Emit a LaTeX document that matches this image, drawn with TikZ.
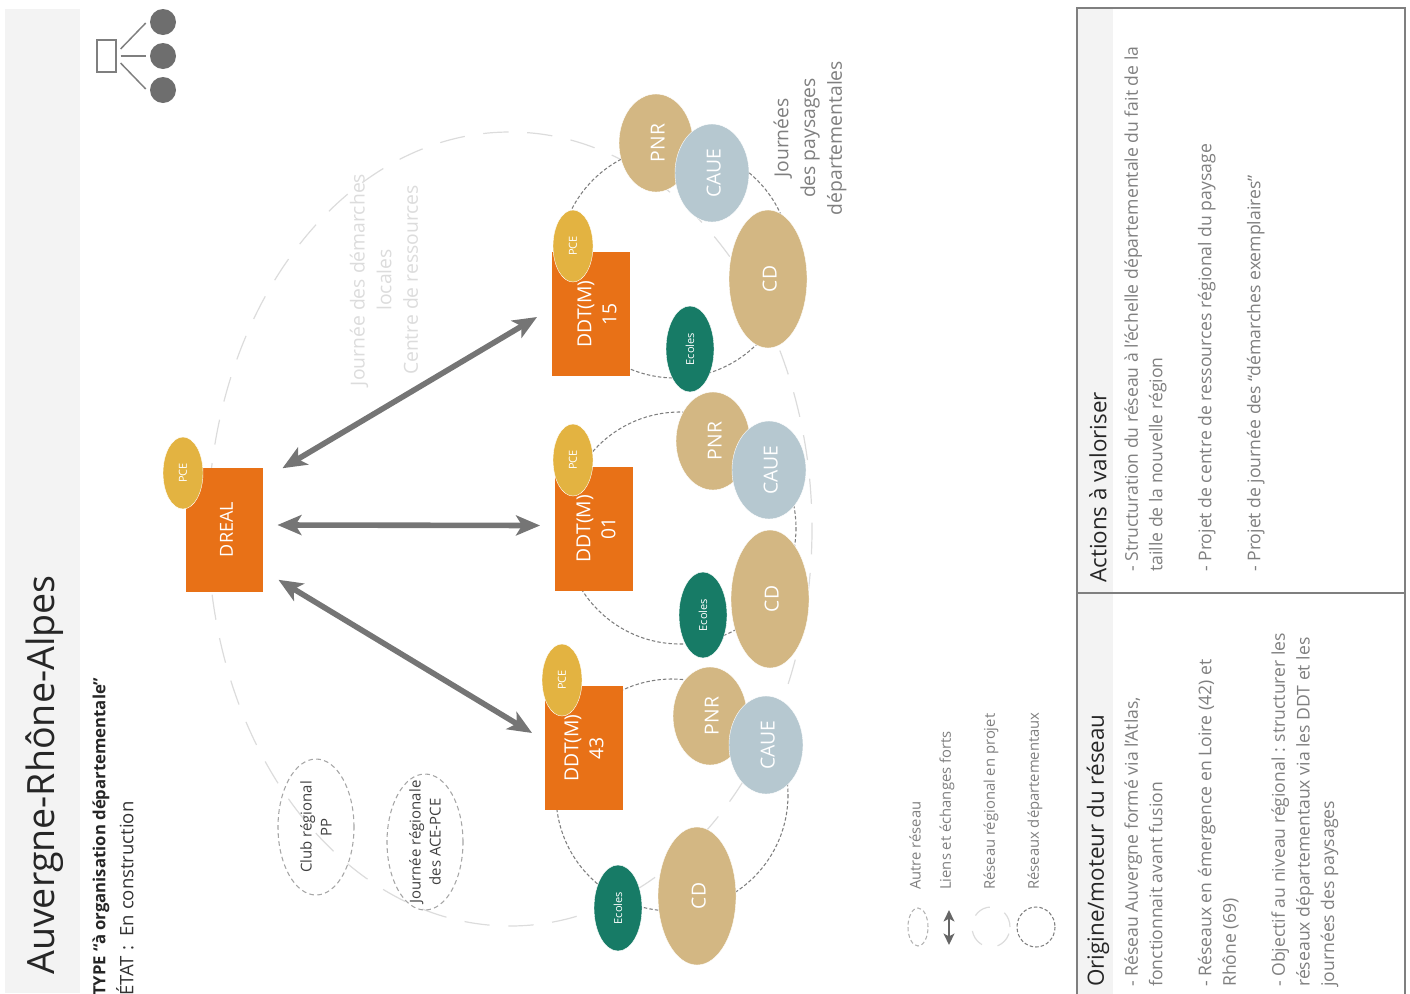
\documentclass[tikz,border=0pt]{standalone}
\usepackage{fontspec}
\setmainfont{Open Sans}
\usetikzlibrary{shapes.geometric,arrows.meta}
\definecolor{band}{HTML}{F3F3F3}
\definecolor{orangebox}{HTML}{E87117}
\definecolor{pcey}{HTML}{E3B341}
\definecolor{tan}{HTML}{D3B783}
\definecolor{caueb}{HTML}{B6C8D0}
\definecolor{greene}{HTML}{177B66}
\definecolor{arrowg}{HTML}{757575}
\definecolor{faint}{HTML}{DCDCDC}
\definecolor{textg}{HTML}{7F7F7F}
\newcommand{\capslbl}[1]{\smash{\raisebox{-6.4pt}{#1}}}
\tikzset{
  x=0.75pt,y=-0.75pt,
  tag/.style={ellipse,rotate=90,inner sep=0pt,text=white,align=center,draw=white,line width=.3pt},
  pnrtag/.style={tag,fill=tan,minimum width=73.5pt,minimum height=55.5pt,font=\fontsize{14.5}{15}\selectfont},
  cauetag/.style={tag,fill=caueb,minimum width=73.5pt,minimum height=55.5pt,font=\fontsize{14.5}{15}\selectfont},
  cdtag/.style={tag,fill=tan,minimum width=103.5pt,minimum height=58.5pt,font=\fontsize{14.5}{15}\selectfont},
  ecoletag/.style={tag,fill=greene,minimum width=64.5pt,minimum height=36pt,font=\fontsize{8.3}{10}\selectfont},
  pcetag/.style={tag,fill=pcey,minimum width=54pt,minimum height=30pt,font=\fontsize{8.3}{10}\selectfont},
  orgbox/.style={rectangle,inner sep=0pt,fill=orangebox,minimum width=58pt,minimum height=93pt},
  orgtext/.style={rotate=90,inner sep=0pt,text=white,align=center,font=\fontsize{14.5}{18.8}\selectfont},
  bigring/.style={draw=faint,line width=.9pt,dash pattern=on 19pt off 14pt},
  smallring/.style={draw=textg,line width=.8pt,dash pattern=on 2.6pt off 1.6pt},
  otherring/.style={ellipse,draw=black!35,line width=.8pt,dash pattern=on 3.5pt off 2.5pt,inner sep=0pt,minimum width=57pt,minimum height=102pt},
  othertext/.style={rotate=90,inner sep=0pt,align=center,text=black!75,font=\fontsize{11.2}{15}\selectfont},
  link/.style={draw=arrowg,line width=4.2pt,{Stealth[length=18pt,width=15pt,inset=4.5pt]}-{Stealth[length=18pt,width=15pt,inset=4.5pt]}},
  rottext/.style={rotate=90,inner sep=0pt,anchor=north west,align=left},
  legendtext/.style={rotate=90,inner sep=0pt,anchor=west,text=textg,font=\fontsize{11.1}{12}\selectfont},
  bodytext/.style={rottext,text=textg,font=\fontsize{13.2}{18.4}\selectfont},
  headtext/.style={rotate=90,inner sep=0pt,anchor=west,text=black!85,font=\fontsize{16.8}{20}\selectfont},
  notetext/.style={rotate=90,inner sep=0pt,align=center,font=\fontsize{14.5}{20}\selectfont},
}
\begin{document}
\begin{tikzpicture}
\useasboundingbox (0,0) rectangle (1410,993);
\clip (0,0) rectangle (1410,993);
% left band and title
\fill[band] (5,9) rectangle (80,993);
\node[headtext,font=\fontsize{28.2}{30}\selectfont,text=black!85] (title) at (45,975) {Auvergne-Rhône-Alpes};
\node[rotate=90,inner sep=0pt,anchor=west,font=\bfseries\fontsize{12.55}{14}\selectfont,text=black!85] (typeline) at (101,996) {TYPE “à organisation départementale”};
\node[rotate=90,inner sep=0pt,anchor=west,font=\fontsize{13.9}{14}\selectfont,text=black!80] (etat) at (125,996) {ÉTAT :\ \ En construction};
% icon
\node[draw=textg,line width=1.1pt,fill=white,minimum width=14pt,minimum height=24pt,inner sep=0pt] (icon) at (106.5,56) {};
\foreach \n/\y in {c1/22,c2/56,c3/90}
  \node[circle,fill=black!57,minimum size=19.5pt,inner sep=0pt] (\n) at (163,\y) {};
\draw[textg,line width=1.1pt] ([shift={(4,-7)}]icon.east) -- ([shift={(-4,1)}]c1.west);
\draw[textg,line width=1.1pt] ([shift={(4,0)}]icon.east) -- ([shift={(-4,0)}]c2.west);
\draw[textg,line width=1.1pt] ([shift={(4,7)}]icon.east) -- ([shift={(-4,-1)}]c3.west);
% regional ring
\draw[bigring] (510,529) ellipse [x radius=302,y radius=397];
% departmental rings
\draw[smallring] (675,262) circle [radius=116];
\draw[smallring] (680,528) circle [radius=116];
\draw[smallring] (672,795) circle [radius=116];
% faint text
\node[notetext,text=faint] (journeeslocales) at (384,280) {Journée des démarches\\locales\\Centre de ressources};
\node[notetext,text=textg] (journeesdep) at (810,138) {Journées\\des paysages\\départementales};
% other rings
\node[otherring] (club) at (316,827) {};
\node[othertext] at (club.center) {Club régional\\PP};
\node[otherring] (journreg) at (425,842) {};
\node[othertext] at (journreg.center) {Journée régionale\\des ACE-PCE};
% boxes
\node[orgbox] (dreal) at (224.5,529.5) {};
\node[orgtext,font=\fontsize{13.5}{16}\selectfont] at ([shift={(2,0)}]dreal.center) {DREAL};
\node[pcetag] (pce0) at (183,473) {PCE};
\node[orgbox] (ddt15) at (591,314) {};
\node[orgtext] at ([shift={(6,0)}]ddt15.center) {DDT(M)\\15};
\node[pcetag] (pce15) at (573,246) {PCE};
\node[orgbox] (ddt01) at (594,528.5) {};
\node[orgtext] at ([shift={(2,0)}]ddt01.center) {DDT(M)\\01};
\node[pcetag] (pce01) at (573,460) {PCE};
\node[orgbox] (ddt43) at (584,748) {};
\node[orgtext] at (ddt43.center) {DDT(M)\\43};
\node[pcetag] (pce43) at (562,680) {PCE};
% group 15
\node[pnrtag] (pnra) at (656,143) {\capslbl{PNR}};
\node[cauetag] (cauea) at (712,173) {\capslbl{CAUE}};
\node[cdtag] (cda) at (768,279) {\capslbl{CD}};
\node[ecoletag] (ecola) at (690,349) {Ecoles};
% group 01
\node[pnrtag] (pnrb) at (713,441) {\capslbl{PNR}};
\node[cauetag] (caueb) at (769,470) {\capslbl{CAUE}};
\node[cdtag] (cdb) at (770,599) {\capslbl{CD}};
\node[ecoletag] (ecolb) at (703,615) {Ecoles};
% group 43
\node[pnrtag] (pnrc) at (710,716) {\capslbl{PNR}};
\node[cauetag] (cauec) at (766,745) {\capslbl{CAUE}};
\node[cdtag] (cdc) at (697,896) {\capslbl{CD}};
\node[ecoletag] (ecolc) at (618,908) {Ecoles};
% strong links
\draw[link] ([shift={(19,1)}]dreal.north east) -- ([shift={(-15,3)}]ddt15.west);
\draw[link] ([shift={(14,-4.5)}]dreal.east) -- ([shift={(-15,-3)}]ddt01.west);
\draw[link] ([shift={(15,-12)}]dreal.south east) -- ([shift={(-13,-15)}]ddt43.west);
% legend
\node[ellipse,draw=black!30,line width=.8pt,dash pattern=on 3pt off 2pt,minimum width=15pt,minimum height=28.5pt,inner sep=0pt] (lega) at (918,927) {};
\coordinate (legbt) at (949,910);
\coordinate (legbb) at (949,945);
\draw[draw=black!60,line width=2.1pt,{Stealth[length=8.5pt,width=8pt,inset=2pt]}-{Stealth[length=8.5pt,width=8pt,inset=2pt]}] (legbt) -- (legbb);
\draw[draw=faint,line width=.9pt,dash pattern=on 13pt off 12pt,dash phase=20pt] (991,927) ellipse [x radius=19,y radius=20];
\draw[smallring] (1036,927) ellipse [x radius=19,y radius=20];
\node[legendtext] (la) at (915,890) {Autre réseau};
\node[legendtext] (lb) at (947,890) {Liens et échanges forts};
\node[legendtext] (lc) at (991,890) {Réseau régional en projet};
\node[legendtext] (ld) at (1035,890) {Réseaux départementaux};
% right panel
\fill[band] (1078,9) rectangle (1113,1000);
\draw[textg,line width=1.5pt] (1077,1000) -- (1077,8) -- (1405,8) -- (1405,1000);
\draw[textg,line width=1.5pt] (1077,592.5) -- (1405,592.5);
\node[headtext] (ha) at (1098,583) {Actions à valoriser};
\node[headtext] (hb) at (1098,987) {Origine/moteur du réseau};
\node[bodytext] (ba) at (1124,572) {- Structuration du réseau à l’échelle départementale du fait de la\\taille de la nouvelle région\\~\\- Projet de centre de ressources régional du paysage\\~\\- Projet de journée des “démarches exemplaires”};
\node[bodytext] (bb) at (1124,987) {- Réseau Auvergne formé via l’Atlas,\\fonctionnait avant fusion\\~\\- Réseaux en émergence en Loire (42) et\\Rhône (69)\\~\\- Objectif au niveau régional : structurer les\\réseaux départementaux via les DDT et les\\journées des paysages};
\end{tikzpicture}
\end{document}
